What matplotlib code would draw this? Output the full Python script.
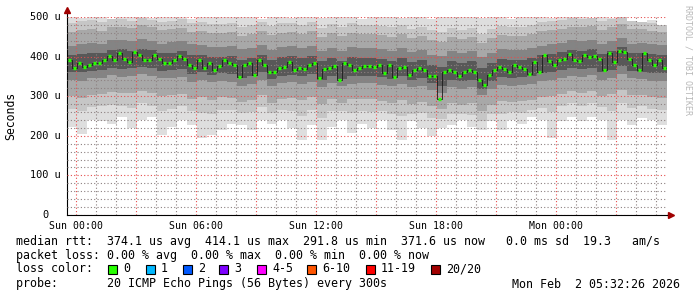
import numpy as np
import matplotlib.pyplot as plt

# SmokePing style latency graph, values in microseconds

# median rtt, one value per 15 minutes starting Sat 23:33
median = [391, 371, 385, 374, 380, 385, 385, 391, 401, 391, 409, 395, 386, 412, 404,
          391, 391, 404, 394, 383, 385, 392, 401, 393, 380, 371, 391, 371, 383, 366,
          376, 391, 383, 379, 349, 379, 383, 354, 391, 380, 361, 361, 370, 375, 386,
          366, 372, 368, 380, 383, 346, 368, 372, 376, 341, 383, 380, 366, 370, 376,
          376, 374, 380, 359, 379, 349, 371, 375, 354, 367, 372, 365, 352, 350, 292,
          362, 365, 360, 352, 360, 365, 360, 340, 328, 354, 365, 375, 368, 362, 380,
          374, 368, 355, 386, 362, 405, 388, 378, 391, 395, 406, 391, 390, 405, 400,
          401, 395, 366, 409, 386, 414, 411, 395, 380, 366, 409, 391, 380, 391, 372]

# smoke envelope (sorted pings), one value per 30 minutes
ping_max = [505, 498, 502, 510, 495, 505, 500, 508, 497, 503, 505, 500, 496, 507, 502,
            499, 505, 510, 500, 494, 503, 506, 498, 502, 505, 497, 500, 508, 502, 496,
            505, 500, 503, 498, 507, 502, 495, 505, 500, 510, 502, 498, 505, 500, 496,
            503, 507, 500, 498, 505, 502, 500, 497, 505, 498, 503, 490, 485, 492, 480]
ping_hi1 = [485, 490, 492, 488, 495, 494, 490, 498, 493, 487, 490, 494, 484, 488, 482,
            482, 486, 476, 480, 488, 478, 484, 486, 480, 488, 472, 482, 476, 484, 480,
            480, 478, 474, 480, 470, 476, 466, 462, 473, 468, 473, 458, 470, 478, 476,
            476, 480, 488, 490, 493, 497, 495, 498, 489, 495, 500, 490, 488, 484, 480]
ping_hi2 = [462, 466, 470, 465, 474, 476, 472, 479, 474, 466, 469, 472, 462, 464, 459,
            459, 462, 452, 456, 464, 454, 460, 462, 456, 464, 449, 459, 452, 460, 456,
            456, 454, 450, 456, 446, 452, 442, 438, 449, 444, 449, 434, 446, 454, 452,
            452, 456, 464, 466, 470, 476, 474, 478, 466, 474, 482, 469, 470, 464, 462]
ping_hi3 = [428, 431, 435, 433, 441, 443, 439, 444, 440, 433, 436, 439, 431, 429, 425,
            423, 427, 418, 421, 429, 417, 423, 426, 421, 428, 413, 422, 415, 423, 421,
            421, 418, 415, 421, 411, 417, 405, 401, 413, 408, 413, 398, 409, 418, 417,
            417, 421, 428, 431, 435, 441, 439, 443, 431, 439, 448, 433, 435, 431, 429]
ping_hi4 = [405, 406, 410, 410, 416, 418, 415, 419, 416, 408, 410, 414, 404, 404, 400,
            400, 402, 392, 396, 404, 392, 398, 401, 396, 402, 388, 397, 390, 398, 396,
            396, 394, 390, 396, 386, 392, 380, 374, 388, 383, 388, 372, 384, 393, 392,
            392, 396, 404, 406, 411, 416, 414, 418, 406, 414, 424, 408, 410, 406, 404]
ping_lo4 = [362, 360, 364, 366, 372, 368, 371, 374, 370, 364, 366, 368, 356, 360, 354,
            358, 356, 346, 350, 361, 344, 352, 354, 350, 356, 341, 352, 344, 351, 352,
            352, 348, 344, 350, 341, 346, 334, 326, 342, 338, 341, 318, 338, 348, 346,
            348, 350, 358, 360, 366, 371, 368, 372, 361, 366, 376, 364, 362, 358, 358]
ping_lo3 = [342, 339, 345, 347, 353, 349, 352, 355, 351, 345, 347, 349, 337, 341, 335,
            339, 337, 327, 331, 342, 325, 333, 335, 331, 337, 322, 333, 325, 332, 333,
            333, 329, 325, 331, 322, 327, 315, 309, 323, 319, 322, 302, 319, 329, 327,
            329, 331, 339, 341, 347, 352, 349, 353, 342, 347, 357, 345, 343, 339, 339]
ping_lo2 = [300, 295, 303, 305, 310, 307, 309, 313, 307, 300, 303, 305, 293, 297, 290,
            298, 296, 285, 290, 302, 284, 292, 295, 290, 298, 280, 292, 284, 292, 292,
            292, 288, 284, 290, 280, 286, 274, 268, 282, 278, 282, 262, 278, 288, 286,
            288, 290, 298, 300, 306, 312, 308, 312, 300, 306, 316, 304, 302, 298, 296]
ping_lo1 = [268, 262, 272, 274, 278, 276, 270, 282, 276, 262, 268, 274, 262, 258, 256,
            264, 266, 258, 260, 272, 258, 266, 262, 250, 266, 246, 262, 262, 258, 262,
            260, 262, 254, 250, 256, 258, 244, 242, 254, 256, 252, 238, 256, 256, 260,
            258, 266, 270, 260, 276, 282, 276, 282, 272, 262, 284, 270, 276, 268, 264]
ping_min = [222, 205, 240, 238, 230, 247, 219, 240, 247, 202, 222, 240, 228, 194, 202,
            215, 230, 228, 215, 240, 230, 240, 219, 189, 228, 190, 222, 240, 207, 230,
            219, 240, 215, 189, 238, 219, 199, 219, 228, 240, 222, 215, 238, 215, 240,
            230, 247, 240, 195, 238, 247, 238, 247, 240, 189, 240, 228, 245, 240, 228]

yticks = [0, 100, 200, 300, 400, 500]
ytick_labels = ['0  ', '100 u', '200 u', '300 u', '400 u', '500 u']
xtick_hours = [0, 6, 12, 18, 24]
xtick_labels = ['Sun 00:00', 'Sun 06:00', 'Sun 12:00', 'Sun 18:00', 'Mon 00:00']

loss_labels = ['0', '1', '2', '3', '4-5', '6-10', '11-19', '20/20']
loss_colors = ['#26ff00', '#00b8ff', '#0059ff', '#7e00ff', '#ff00ff', '#ff5500', '#ff0000', '#a10000']

t0 = -0.45  # Sat 23:33, hours relative to Sun 00:00
t1 = 29.55
mono = 'DejaVu Sans Mono'

fig = plt.figure(figsize=(6.97, 2.97), dpi=100)
ax = fig.add_axes([67 / 697, 82 / 297, 600 / 697, 198 / 297])

# smoke layers, outer ones lightest
n = len(ping_max)
tb = t0 + 0.5 * np.arange(n + 1)
def ext(a):
    return np.append(a, a[-1])
layers = [(ping_min, ping_max, '#dedede'),
          (ping_lo1, ping_hi1, '#c6c6c6'),
          (ping_lo2, ping_hi2, '#a8a8a8'),
          (ping_lo3, ping_hi3, '#848484'),
          (ping_lo4, ping_hi4, '#585858')]
for lo, hi, c in layers:
    ax.fill_between(tb, ext(lo), ext(hi), step='post', color=c, lw=0)

# median
m = np.array(median)
tm = t0 + 0.25 * np.arange(len(m) + 1)
ax.step(tm, ext(m), where='post', color='#1c1c1c', lw=0.6, zorder=3)
ax.hlines(m, tm[:-1] + 0.03, tm[:-1] + 0.22, colors=loss_colors[0], lw=2.4, zorder=4)

ax.set_xlim(t0, t1)
ax.set_ylim(0, 500)

# grid
ax.set_xticks(np.arange(0, 30, 3))
ax.set_xticks(np.arange(0, 30, 1), minor=True)
ax.set_yticks(yticks)
ax.set_yticks(np.arange(0, 501, 20), minor=True)
ax.grid(which='minor', color=(0.55, 0.5, 0.5, 0.25), ls=(0, (1, 2)), lw=0.8)
ax.grid(which='major', color=(0.9, 0.3, 0.3, 0.42), ls=(0, (1, 2)), lw=0.8)
ax.set_axisbelow(False)

ax.set_xticklabels([])
ax.set_yticklabels([])
ax.tick_params(which='both', length=0)
for h, lab in zip(xtick_hours, xtick_labels):
    ax.text(h, -0.03, lab, transform=ax.get_xaxis_transform(), ha='center', va='top',
            family=mono, fontsize=7.1)
for v, lab in zip(yticks, ytick_labels):
    ax.text(-0.01, v, lab, transform=ax.get_yaxis_transform(), ha='right', va='center',
            family=mono, fontsize=7.4)

for s in ['top', 'right']:
    ax.spines[s].set_visible(False)
ax.spines['left'].set_linewidth(0.8)
ax.spines['bottom'].set_linewidth(0.8)
ax.plot([0, 0], [1, 1.03], transform=ax.transAxes, color='k', lw=0.8, clip_on=False)
ax.plot([0], [1.035], transform=ax.transAxes, marker='^', ms=4, color='#a00000',
        clip_on=False, mec='#a00000')
ax.plot([1, 1.004], [0, 0], transform=ax.transAxes, color='k', lw=0.8, clip_on=False)
ax.plot([1.006], [0], transform=ax.transAxes, marker='>', ms=4, color='#a00000',
        clip_on=False, mec='#a00000')

fig.text(11 / 697, 1 - 116 / 297, 'Seconds', rotation=90, ha='center', va='center',
         family=mono, fontsize=8.3)
fig.text(688 / 697, 1 - 5 / 297, 'RRDTOOL / TOBI OETIKER', rotation=270, ha='center',
         va='top', family=mono, fontsize=6, color='#b8b8b8')

# legend
fs = 8.4
def ty(y):
    return 1 - y / 297
fig.text(16 / 697, ty(241), 'median rtt:  374.1 us avg  414.1 us max  291.8 us min  '
         '371.6 us now   0.0 ms sd  19.3   am/s', family=mono, fontsize=fs, va='center')
fig.text(16 / 697, ty(255), 'packet loss: 0.00 % avg  0.00 % max  0.00 % min  0.00 % now',
         family=mono, fontsize=fs, va='center')
fig.text(16 / 697, ty(269), 'loss color:', family=mono, fontsize=fs, va='center')
box_x = [108, 146, 183, 219, 257, 307, 366, 431]
for bx, lab, c in zip(box_x, loss_labels, loss_colors):
    fig.patches.append(plt.Rectangle((bx / 697, ty(273.5)), 9 / 697, 9 / 297, fc=c,
                                     ec='black', lw=0.8, transform=fig.transFigure))
    fig.text((bx + 15) / 697, ty(269), lab, family=mono, fontsize=fs, va='center')
fig.text(16 / 697, ty(284), 'probe:       20 ICMP Echo Pings (56 Bytes) every 300s',
         family=mono, fontsize=fs, va='center')
fig.text(680 / 697, ty(284), 'Mon Feb  2 05:32:26 2026', family=mono, fontsize=fs,
         va='center', ha='right')

fig.savefig('out.png', dpi=100)
